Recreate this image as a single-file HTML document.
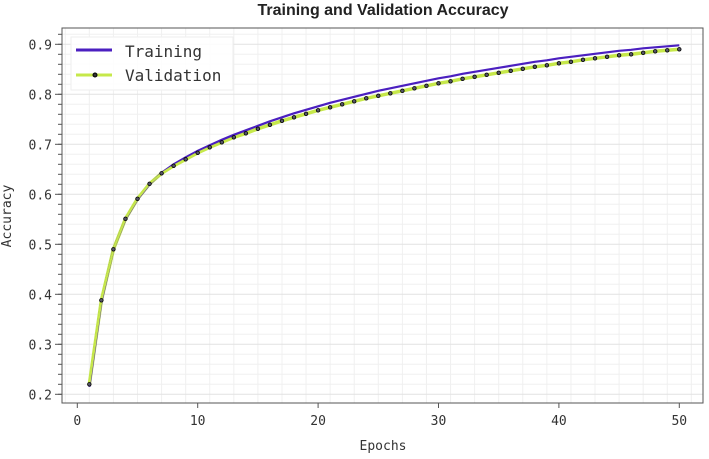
<!DOCTYPE html>
<html><head><meta charset="utf-8"><style>
body{margin:0;background:#fff;}
svg text{font-family:"DejaVu Sans Mono","Liberation Mono",monospace;fill:#333;}
</style></head><body>
<svg id="chart" width="709" height="454" xmlns="http://www.w3.org/2000/svg">
<text x="383" y="15" text-anchor="middle" style="font-family:'Liberation Sans',sans-serif;font-weight:bold;font-size:16px;fill:#222">Training and Validation Accuracy</text>
<g id="grid"></g>
<rect x="62" y="28" width="641" height="375" fill="none" stroke="#555" stroke-width="1"/>
<g id="axes"></g>
<g id="series"></g>
<text x="383" y="450" text-anchor="middle" font-size="13">Epochs</text>
<text transform="translate(11,216) rotate(-90)" text-anchor="middle" font-size="13">Accuracy</text>
<g>
<rect x="71" y="37" width="162" height="53" fill="#fff" fill-opacity="0.85" stroke="#eee"/>
<line x1="76" y1="50" x2="112" y2="50" stroke="#4b1fc0" stroke-width="3"/>
<text x="125" y="57" font-size="16">Training</text>
<line x1="76" y1="75" x2="112" y2="75" stroke="#c6e84a" stroke-width="3"/>
<circle cx="95" cy="75" r="2" fill="#333" stroke="#000"/>
<text x="125" y="81" font-size="16">Validation</text>
</g>
</svg>
<script>
const epochs=[];for(let i=1;i<=50;i++)epochs.push(i);
const trainAcc=[0.215,0.385,0.49,0.55,0.59,0.62,0.643,0.66,0.674,0.687,0.698,0.709,0.719,0.728,0.737,0.746,0.754,0.762,0.769,0.776,0.783,0.789,0.795,0.801,0.807,0.812,0.817,0.822,0.827,0.832,0.836,0.841,0.845,0.849,0.853,0.857,0.861,0.865,0.868,0.872,0.875,0.878,0.881,0.884,0.887,0.889,0.892,0.894,0.896,0.898];
const valAcc=[0.22,0.388,0.49,0.551,0.591,0.621,0.642,0.657,0.67,0.683,0.694,0.704,0.714,0.722,0.731,0.739,0.747,0.754,0.761,0.768,0.774,0.78,0.786,0.792,0.797,0.802,0.807,0.812,0.817,0.822,0.826,0.831,0.835,0.839,0.843,0.847,0.851,0.855,0.858,0.862,0.865,0.869,0.872,0.875,0.878,0.88,0.883,0.886,0.888,0.89];
const xTicks=[0,10,20,30,40,50];
const yTicks=[0.2,0.3,0.4,0.5,0.6,0.7,0.8,0.9];
const NS="http://www.w3.org/2000/svg";
const X=v=>77.3+v*12.04, Y=v=>394.3-(v-0.2)*500;
function mk(t,a,p){const e=document.createElementNS(NS,t);for(const k in a)e.setAttribute(k,a[k]);p.appendChild(e);return e;}
const grid=document.getElementById('grid'),axes=document.getElementById('axes'),ser=document.getElementById('series');
for(let v=-1;v<=52;v+=2){const x=X(v);if(x<62||x>703)continue;const l=mk('line',{x1:x,x2:x,y1:28,y2:403,stroke:v%10==0?'#e2e2e2':'#f0f0f0','stroke-width':1},grid);

}
for(let i=0;i<=40;i++){const v=0.18+i*0.02;const y=Y(v);if(y<28||y>403)continue;const l=mk('line',{x1:62,x2:703,y1:y,y2:y,stroke:Math.round(v*100)%10==0?'#e2e2e2':'#f0f0f0','stroke-width':1},grid);


mk('line',{x1:58,x2:62,y1:y,y2:y,stroke:'#555'},axes);}
xTicks.forEach(v=>{mk('line',{x1:X(v),x2:X(v),y1:403,y2:408,stroke:'#555'},axes);const t=mk('text',{x:X(v),y:425,'text-anchor':'middle','font-size':13},axes);t.textContent=v;

});
yTicks.forEach(v=>{mk('line',{x1:55,x2:62,y1:Y(v),y2:Y(v),stroke:'#555'},axes);const t=mk('text',{x:52,y:Y(v)+5,'text-anchor':'end','font-size':13},axes);t.textContent=v.toFixed(1);

});
const pts=a=>a.map((v,i)=>X(epochs[i])+','+Y(v)).join(' ');
const vl=mk('polyline',{points:pts(valAcc),fill:'none',stroke:'#c6e84a','stroke-width':3.5},ser);


const tl=mk('polyline',{points:pts(trainAcc),fill:'none',stroke:'#4b1fc0','stroke-width':2.2},ser);


const vl2=mk('polyline',{points:pts(valAcc),fill:'none',stroke:'#c6e84a','stroke-width':2},ser);
valAcc.forEach((v,i)=>{const c=mk('circle',{cx:X(epochs[i]),cy:Y(v),r:1.8,fill:'#556',stroke:'#000','stroke-width':0.8},ser);

});
</script>
</body></html>
